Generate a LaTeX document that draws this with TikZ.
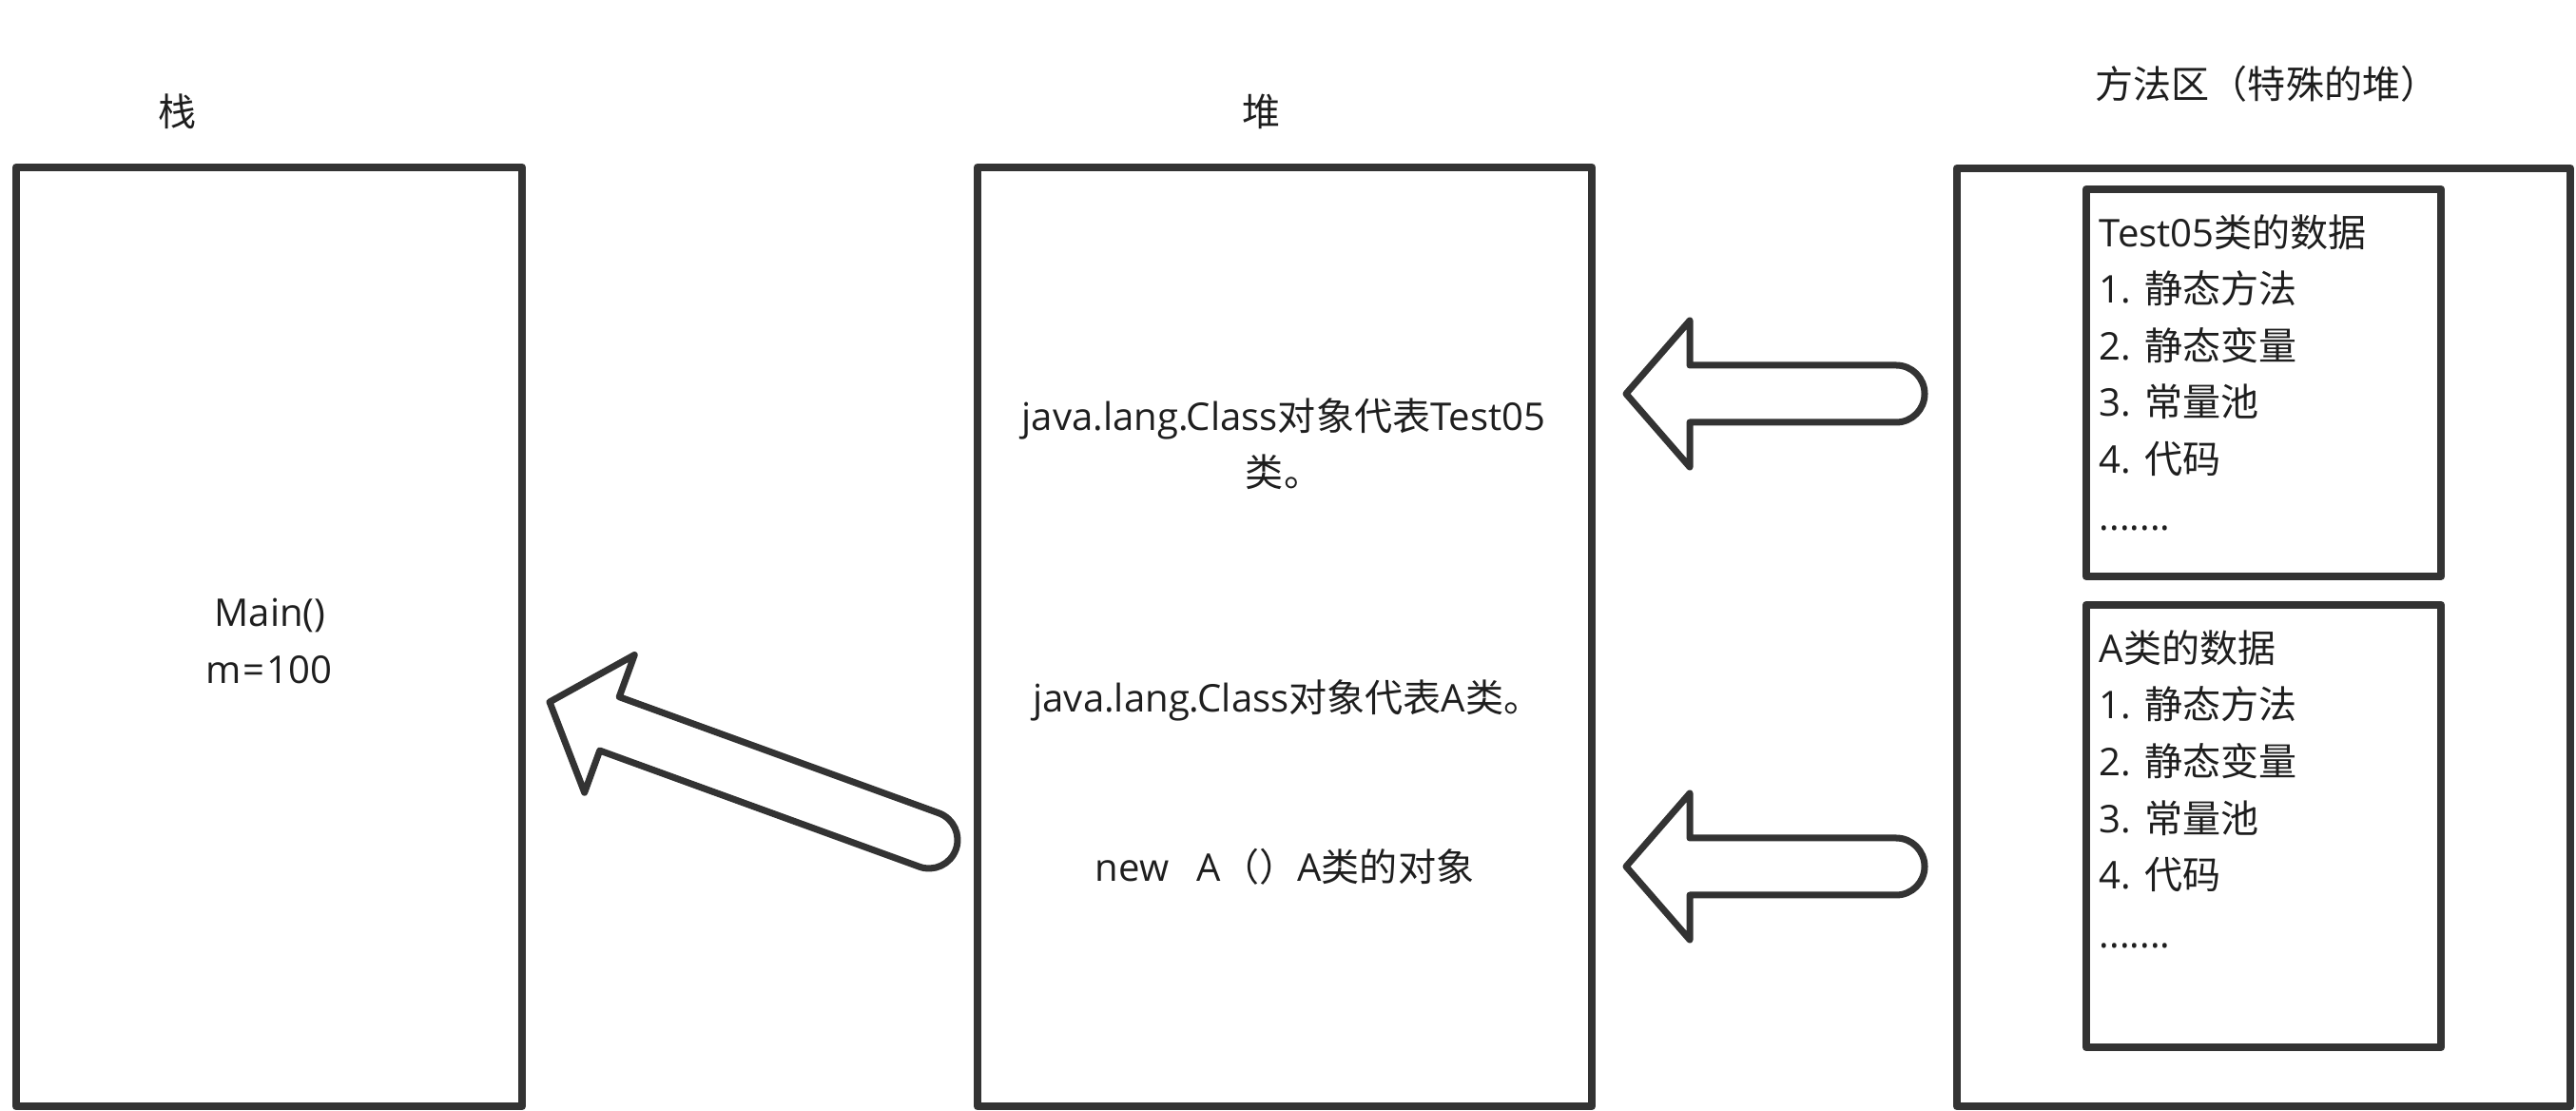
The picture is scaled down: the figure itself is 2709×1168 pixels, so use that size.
\documentclass[tikz,border=0pt]{standalone}
\usepackage{fontspec}
\setmainfont{Open Sans}
\newfontfamily\cjk{Noto Sans CJK SC}
\definecolor{ln}{HTML}{333333}
\definecolor{tx}{HTML}{1E1E1E}
\tikzset{
  pics/blockarr/.style={code={
    \draw[bigarrow] (0,0) -- (67,-77) -- (67,-30) -- (#1,-30)
      arc[start angle=-90,end angle=90,radius=30] -- (67,30) -- (67,77) -- cycle;
  }}
}
\begin{document}
\begin{tikzpicture}[x=0.01cm,y=-0.01cm,
  box/.style={draw=ln, line width=0.08cm, line join=round, inner sep=0pt, outer sep=0pt},
  txt/.style={text=tx, font=\fontsize{11.4pt}{17pt}\selectfont, inner sep=0pt, text height=0.352cm, text depth=0.048cm},
  lst/.style={txt, anchor=west},
  bigarrow/.style={draw=ln, line width=0.07cm, line join=round, fill=white}]
\useasboundingbox (0,0) rectangle (2709,1168);

% boxes
\node[box, minimum width=5.32cm, minimum height=9.87cm] (stack) at (283,669.5) {};
\node[box, minimum width=6.46cm, minimum height=9.87cm] (heap) at (1351,669.5) {};
\node[box, minimum width=6.45cm, minimum height=9.86cm] (meth) at (2380.5,670) {};
\node[box, minimum width=3.73cm, minimum height=4.07cm] (cls1) at (2380.5,402.5) {};
\node[box, minimum width=3.73cm, minimum height=4.65cm] (cls2) at (2380.5,868.5) {};

% titles
\node[txt] (stackT) at (187,117) {\cjk 栈};
\node[txt] (heapT) at (1327,117) {\cjk 堆};
\node[txt] (methT) at (2384,88) {\cjk 方法区（特殊的堆）};

% stack content
\node[txt] (main1) at (284,643) {Main()};
\node[txt] (main2) at (283,703) {m\kern0.05em=\kern0.05em100};

% heap content
\node[txt] (h1) at (1350,437) {java.lang.Class{\cjk 对象代表}Test05};
\node[txt] (h2) at (1350,496) {\cjk 类。};
\node[txt] (h3) at (1354,733) {java.lang.Class{\cjk 对象代表}A{\cjk 类。}};
\node[txt] (h4) at (1351,911) {new\hspace{0.74em}A{\cjk （）}A{\cjk 类的对象}};

% class data 1
\node[lst] (a1) at (2207,244) {Test05{\cjk 类的数据}};
\node[lst] (a2) at (2207,303.6) {1. {\cjk 静态方法}};
\node[lst] (a3) at (2207,363.2) {2. {\cjk 静态变量}};
\node[lst] (a4) at (2207,422.8) {3. {\cjk 常量池}};
\node[lst] (a5) at (2207,482.4) {4. {\cjk 代码}};
\node[lst] (a6) at (2207,542) {.......};

% class data 2
\node[lst] (b1) at (2207,681) {A{\cjk 类的数据}};
\node[lst] (b2) at (2207,740.6) {1. {\cjk 静态方法}};
\node[lst] (b3) at (2207,800.2) {2. {\cjk 静态变量}};
\node[lst] (b4) at (2207,859.8) {3. {\cjk 常量池}};
\node[lst] (b5) at (2207,919.4) {4. {\cjk 代码}};
\node[lst] (b6) at (2207,981) {.......};

% block arrows
\coordinate (tipA) at (1710,414);
\coordinate (tipB) at (1710,911);
\coordinate (tipC) at (578,738);
\pic at (tipA) {blockarr=284};
\pic at (tipB) {blockarr=284};
\pic[rotate=-19.97] at (tipC) {blockarr=424.5};
\end{tikzpicture}
\end{document}
